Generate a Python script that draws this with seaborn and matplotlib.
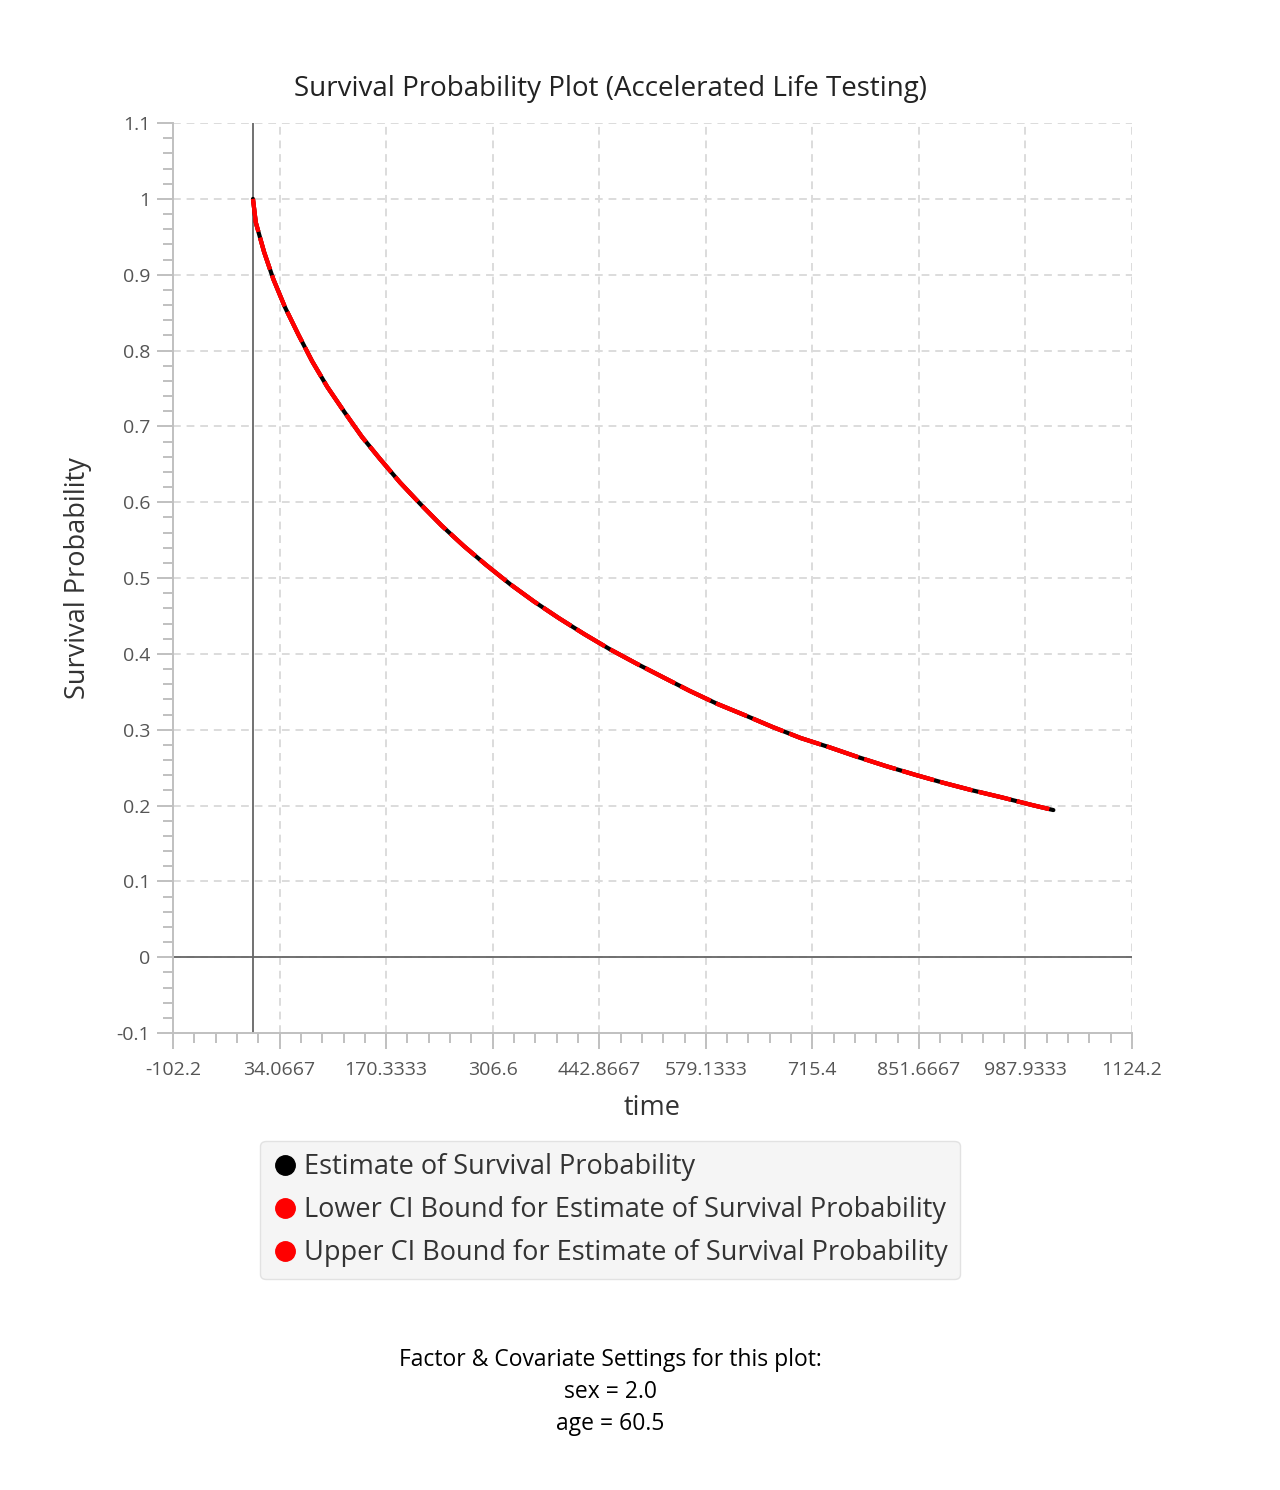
import matplotlib
matplotlib.use("Agg")
import matplotlib.pyplot as plt
import seaborn as sns
import pandas as pd
from matplotlib.lines import Line2D
from matplotlib.ticker import FixedLocator, AutoMinorLocator

# valori
time = [0, 3.6, 14.2, 26.1, 41.0, 58.1, 75.6, 95.1, 116.9, 139.5, 162.5, 188.1, 213.7, 241.4, 269.9,
        298.5, 328.8, 359.5, 391.4, 423.8, 456.6, 490.8, 524.8, 558.9, 593.9, 629.3, 664.7, 700.5,
        736.7, 773.4, 809.6, 846.7, 882.9, 920.0, 957.5, 995.0, 1023.6]
survival = [1.0, 0.969, 0.930, 0.894, 0.857, 0.821, 0.786, 0.752, 0.719, 0.686, 0.657, 0.626, 0.598,
            0.569, 0.542, 0.517, 0.492, 0.469, 0.447, 0.426, 0.406, 0.387, 0.369, 0.351, 0.334, 0.319,
            0.3035, 0.289, 0.277, 0.264, 0.252, 0.2406, 0.230, 0.220, 0.2108, 0.201, 0.194]
lower_ci = survival
upper_ci = survival

x_ticks = [-102.2, 34.0667, 170.3333, 306.6, 442.8667, 579.1333, 715.4, 851.6667, 987.9333, 1124.2]
x_labels = ["-102.2", "34.0667", "170.3333", "306.6", "442.8667", "579.1333", "715.4", "851.6667",
            "987.9333", "1124.2"]
y_ticks = [-0.1, 0, 0.1, 0.2, 0.3, 0.4, 0.5, 0.6, 0.7, 0.8, 0.9, 1, 1.1]
y_labels = ["-0.1", "0", "0.1", "0.2", "0.3", "0.4", "0.5", "0.6", "0.7", "0.8", "0.9", "1", "1.1"]

sns.set_style("white")
plt.rcParams['font.family'] = ['Open Sans', 'DejaVu Sans']

df = pd.DataFrame({"time": time, "est": survival, "low": lower_ci, "up": upper_ci})

fig = plt.figure(figsize=(12.8, 14.9), dpi=100)
ax = fig.add_axes([0.1352, 0.3067, 0.7492, 0.6107])

grid_c = "#dcdcdc"
for xv in x_ticks[1:]:
    ax.axvline(xv, color=grid_c, lw=1.4, ls=(0, (4, 3)), zorder=0)
for yv in y_ticks[1:]:
    ax.axhline(yv, color=grid_c, lw=1.4, ls=(0, (4, 3)), zorder=0)

ax.axvline(0, color="#666666", lw=1.3, zorder=1)
ax.axhline(0, color="#666666", lw=1.3, zorder=1)

sns.lineplot(data=df, x="time", y="est", color="black", lw=3, ax=ax, zorder=3)
sns.lineplot(data=df, x="time", y="low", color="red", lw=3, ax=ax, zorder=4)
sns.lineplot(data=df, x="time", y="up", color="red", lw=3, ax=ax, zorder=5)
# tratteggio rosso con piccoli spazi dove si vede la stima
for ln in ax.lines[-2:]:
    ln.set_linestyle((0, (8.0, 1.5)))
    ln.set_solid_capstyle("butt")
    ln.set_dash_capstyle("butt")

ax.set_xlim(-102.2, 1124.2)
ax.set_ylim(-0.1, 1.1)
ax.xaxis.set_major_locator(FixedLocator(x_ticks))
ax.yaxis.set_major_locator(FixedLocator(y_ticks))
ax.set_xticklabels(x_labels)
ax.set_yticklabels(y_labels)
ax.xaxis.set_minor_locator(AutoMinorLocator(5))
ax.yaxis.set_minor_locator(AutoMinorLocator(5))

for s in ["top", "right"]:
    ax.spines[s].set_visible(False)
for s in ["left", "bottom"]:
    ax.spines[s].set_color("#c0c0c0")
    ax.spines[s].set_linewidth(1.4)

ax.tick_params(axis="both", which="both", bottom=True, left=True, color="#c0c0c0", width=1.4,
               labelsize=14, labelcolor="#555555")
ax.tick_params(axis="both", which="major", length=11.5)
ax.tick_params(axis="both", which="minor", length=7.5)
ax.tick_params(axis="x", which="major", pad=8.5)
ax.tick_params(axis="y", which="major", pad=5)

ax.set_xlabel("time", fontsize=19.5, color="#333333", labelpad=11)
ax.set_ylabel("Survival Probability", fontsize=19.5, color="#333333", labelpad=18)
fig.text(0.4766, 0.9403, "Survival Probability Plot (Accelerated Life Testing)", fontsize=20,
         color="#222222", ha="center", va="center")

handles = [
    Line2D([], [], ls="none", marker="o", ms=14, color="black"),
    Line2D([], [], ls="none", marker="o", ms=14, color="red"),
    Line2D([], [], ls="none", marker="o", ms=14, color="red"),
]
labels = ["Estimate of Survival Probability",
          "Lower CI Bound for Estimate of Survival Probability",
          "Upper CI Bound for Estimate of Survival Probability"]
leg = fig.legend(handles, labels, loc="upper center", bbox_to_anchor=(0.4766, 0.2342),
                 fontsize=19.5, frameon=True, fancybox=True, facecolor="#f3f3f3",
                 edgecolor="#dcdcdc", handletextpad=0.25, handlelength=0.9,
                 labelspacing=0.55, borderpad=0.45, borderaxespad=0)
for t in leg.get_texts():
    t.set_color("#333333")

fig.text(0.4766, 0.0658, "Factor & Covariate Settings for this plot:\nsex = 2.0\nage = 60.5",
         ha="center", va="center", fontsize=16.5, color="black", linespacing=1.42)

fig.savefig("out.png", dpi=100)
